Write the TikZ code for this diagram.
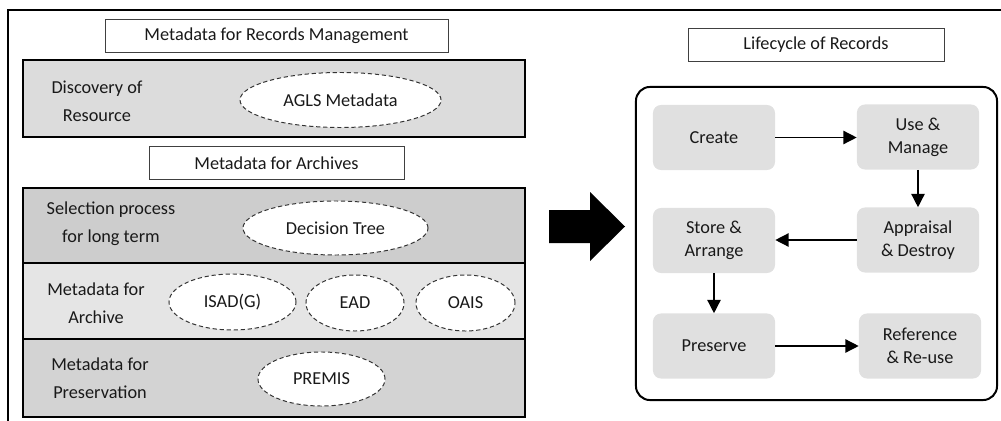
\documentclass[tikz,border=0pt]{standalone}
\usepackage{fontspec}
\setmainfont{Carlito}
\usepackage{xcolor}
\usepackage{tikz}
\usetikzlibrary{shapes.geometric,arrows.meta}

\definecolor{panelA}{HTML}{DCDCDC}
\definecolor{panelB}{HTML}{CDCDCD}
\definecolor{panelC}{HTML}{E5E5E5}
\definecolor{panelD}{HTML}{D3D3D3}
\definecolor{stagegray}{HTML}{E0E0E0}

\begin{document}
\begin{tikzpicture}[x=0.025cm, y=-0.025cm,
    every node/.style={font=\fontsize{13}{20}\selectfont, text=black!90},
    panel/.style={draw, line width=1.2pt, minimum width=12.55cm, inner sep=0pt},
    titlebox/.style={draw=black!75, line width=0.6pt, minimum height=0.825cm, inner sep=0pt},
    oval/.style={ellipse, draw=black!80, dash pattern=on 3pt off 2pt, fill=white, line width=0.7pt, inner sep=0pt},
    side/.style={align=center},
    stage/.style={rounded corners=0.2cm, fill=stagegray, minimum width=3.05cm, minimum height=1.625cm, align=center, font=\fontsize{13}{16.3}\selectfont},
    flow/.style={-{Triangle[length=9.5pt,width=9.5pt]}, line width=1pt}]
    \useasboundingbox (0,0) rectangle (1001,421);
    \draw[line width=1.4pt] (8,421) -- (8,10) -- (1001,10);
    % left column
    \node[titlebox, minimum width=8.575cm] (rmtitle) at (276.5,35.5) {Metadata for Records Management};
    \node[panel, fill=panelA, minimum height=1.925cm] (discovery) at (274,98.5) {};
    \node[side] (discoverytxt) at (97,101) {Discovery of\\Resource};
    \node[oval, minimum width=5.025cm, minimum height=1.375cm] (agls) at (340.5,100) {AGLS Metadata};
    \node[titlebox, minimum width=6.375cm] (artitle) at (276.5,163) {Metadata for Archives};
    \node[panel, fill=panelB, minimum height=1.875cm] (selection) at (274,225.5) {};
    \node[side] (selectiontxt) at (111,224) {Selection process\\for long term};
    \node[oval, minimum width=4.625cm, minimum height=1.35cm] (tree) at (335.5,228) {Decision Tree};
    \node[panel, fill=panelC, minimum height=1.9cm] (archive) at (274,301) {};
    \node[side] (archivetxt) at (96,303) {Metadata for\\Archive};
    \node[oval, minimum width=3.175cm, minimum height=1.4cm] (isad) at (232.5,302) {ISAD(G)};
    \node[oval, minimum width=2.45cm, minimum height=1.4cm] (ead) at (355,303) {EAD};
    \node[oval, minimum width=2.475cm, minimum height=1.4cm] (oais) at (465.5,303) {OAIS};
    \node[panel, fill=panelD, minimum height=1.95cm] (preservation) at (274,378) {};
    \node[side] (preservationtxt) at (100,378) {Metadata for\\Preservation};
    \node[oval, minimum width=3.175cm, minimum height=1.35cm] (premis) at (321.5,379) {PREMIS};
    % big arrow
    \fill (549,210) -- (590,210) -- (590,192) -- (625,226.5) -- (590,261) -- (590,243) -- (549,243) -- cycle;
    % right column
    \node[titlebox, minimum width=6.4cm] (lctitle) at (816,44.5) {Lifecycle of Records};
    \node[draw, line width=1.4pt, rounded corners=0.35cm, minimum width=9.025cm, minimum height=7.825cm] (lifecycle) at (816.5,243.5) {};
    \node[stage] (create) at (714,137.5) {Create};
    \node[stage] (use) at (918,137) {Use \&\\Manage};
    \node[stage] (appraisal) at (918,240) {Appraisal\\\& Destroy};
    \node[stage] (store) at (714,240.5) {Store \&\\Arrange};
    \node[stage] (preserve) at (714,346) {Preserve};
    \node[stage] (reference) at (920,346) {Reference\\\& Re-use};
    \draw[flow] (create) -- (use.west |- create);
    \draw[flow] (use) -- (appraisal);
    \draw[flow] (appraisal) -- (store.east |- appraisal);
    \draw[flow] (store) -- (preserve);
    \draw[flow] (preserve) -- (reference);
\end{tikzpicture}
\end{document}
